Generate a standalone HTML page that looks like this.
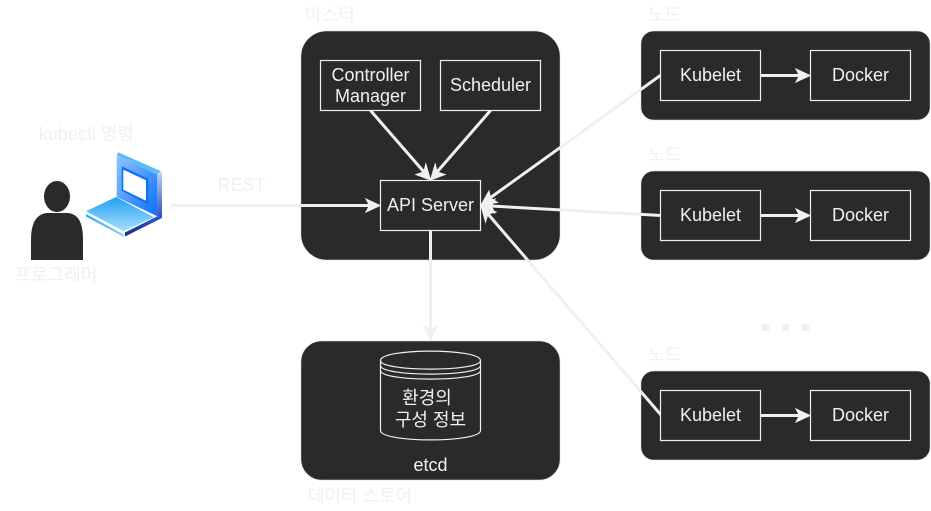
<!DOCTYPE html>
<html lang="ko">
<head>
<meta charset="utf-8">
<style>
html,body{margin:0;padding:0;background:#fff;width:931px;height:511px;overflow:hidden}
svg{display:block}
text{font-family:"Liberation Sans","Noto Sans CJK KR",sans-serif;font-size:18px;fill:#f0f0f0;text-anchor:middle}
.b{fill:#2a2a2a;stroke:#f0f0f0;stroke-width:1}
.c{fill:#2a2a2a;stroke:#f0f0f0;stroke-width:1.2}
.l{stroke:#f0f0f0;stroke-width:3;fill:none}
.a{fill:#f0f0f0;stroke:#f0f0f0;stroke-width:1}
</style>
</head>
<body>
<svg width="931" height="511" viewBox="0 0 931 511" xmlns="http://www.w3.org/2000/svg">
<defs>
<linearGradient id="g1" x1="0" y1="0" x2="0" y2="1"><stop offset="0" stop-color="#20a2f2"/><stop offset="1" stop-color="#a8defc"/></linearGradient>
<linearGradient id="g2" x1="0" y1="0" x2="1" y2="1"><stop offset="0" stop-color="#90c2ff"/><stop offset="1" stop-color="#0a70f8"/></linearGradient>
<linearGradient id="g3" x1="0" y1="0" x2="0" y2="1"><stop offset="0" stop-color="#bcd2f6"/><stop offset="1" stop-color="#2a4cc0"/></linearGradient>
<linearGradient id="g4" x1="0" y1="0" x2="1" y2="0"><stop offset="0" stop-color="#14309f"/><stop offset="1" stop-color="#3458c8"/></linearGradient>
<linearGradient id="g5" x1="0" y1="0" x2="1" y2="0"><stop offset="0" stop-color="#25a6f4"/><stop offset="1" stop-color="#8dd2fa"/></linearGradient>
</defs>

<rect class="b" x="300.700" y="30.700" width="259.600" height="229.600" rx="26"/>
<rect class="b" x="640.700" y="30.700" width="289.600" height="89.600" rx="13"/>
<rect class="b" x="640.700" y="170.700" width="289.600" height="89.600" rx="13"/>
<rect class="b" x="640.700" y="370.700" width="289.600" height="89.600" rx="13"/>
<rect class="b" x="300.700" y="340.700" width="259.600" height="139.600" rx="21"/>

<text x="330" y="21">마스터</text>
<text x="664.500" y="21">노드</text>
<text x="664.500" y="161">노드</text>
<text x="664.500" y="361">노드</text>
<text x="360" y="502">데이터 스토어</text>
<text x="86.500" y="140">kubectl 명령</text>
<text x="56" y="281">프로그래머</text>
<text x="241.500" y="191">REST</text>

<rect x="762" y="324" width="7" height="7" fill="#f0f0f0"/>
<rect x="782" y="324" width="7" height="7" fill="#f0f0f0"/>
<rect x="802" y="324" width="7" height="7" fill="#f0f0f0"/>

<!-- connectors -->
<path class="l" d="M171 205.500H370"/>
<path class="a" d="M380 205.500L366 212L369.500 205.500L366 199Z"/>
<path class="l" d="M430.500 231V330"/>
<path class="a" d="M430.500 340L424 326L430.500 329.500L437 326Z"/>
<path class="l" d="M370.500 110.500L424 172"/>
<path class="a" d="M430.500 180L416 174.500L423.800 172L425.800 164Z"/>
<path class="l" d="M490.500 110.500L437 172"/>
<path class="a" d="M430.500 180L435.200 164L437.200 172L445 174.500Z"/>
<path class="l" d="M661 75L490 198"/>
<path class="a" d="M481 205L489 191L490.500 198L497.500 202.500Z"/>
<path class="l" d="M661 215.500L491 206"/>
<path class="a" d="M481 205.500L495 199L491.500 206L494.500 213Z"/>
<path class="l" d="M661 415L488 214"/>
<path class="a" d="M481 205.500L496 212L488 214L485.500 222Z"/>
<path class="l" d="M761 75.500H800"/>
<path class="a" d="M810 75.500L796 82L799.500 75.500L796 69Z"/>
<path class="l" d="M761 215.500H800"/>
<path class="a" d="M810 215.500L796 222L799.500 215.500L796 209Z"/>
<path class="l" d="M761 415.500H800"/>
<path class="a" d="M810 415.500L796 422L799.500 415.500L796 409Z"/>

<!-- master inner -->
<rect class="c" x="320.500" y="60.500" width="100" height="50"/>
<text x="370.500" y="81">Controller</text>
<text x="370.500" y="102">Manager</text>
<rect class="c" x="440.500" y="60.500" width="100" height="50"/>
<text x="490.500" y="91">Scheduler</text>
<rect class="c" x="380.500" y="180.500" width="100" height="50"/>
<text x="430.500" y="211">API Server</text>

<!-- nodes -->
<rect class="c" x="660.500" y="50.500" width="100" height="50"/>
<text x="710.500" y="81">Kubelet</text>
<rect class="c" x="810.500" y="50.500" width="100" height="50"/>
<text x="860.500" y="81">Docker</text>
<rect class="c" x="660.500" y="190.500" width="100" height="50"/>
<text x="710.500" y="221">Kubelet</text>
<rect class="c" x="810.500" y="190.500" width="100" height="50"/>
<text x="860.500" y="221">Docker</text>
<rect class="c" x="660.500" y="390.500" width="100" height="50"/>
<text x="710.500" y="421">Kubelet</text>
<rect class="c" x="810.500" y="390.500" width="100" height="50"/>
<text x="860.500" y="421">Docker</text>

<!-- etcd cylinder -->
<path class="c" d="M380.500 360.500C380.500 348 480.500 348 480.500 360.500V430.500C480.500 443 380.500 443 380.500 430.500Z"/>
<path fill="none" stroke="#f0f0f0" stroke-width="1.200" d="M380.500 360.500C380.500 372 480.500 372 480.500 360.500M380.500 365.500C380.500 377 480.500 377 480.500 365.500M380.500 370.500C380.500 382 480.500 382 480.500 370.500"/>
<text x="427" y="404">환경의</text>
<text x="430.500" y="426">구성 정보</text>
<text x="430.500" y="471">etcd</text>

<!-- person -->
<ellipse cx="57" cy="196.500" rx="13" ry="15.500" fill="#2a2a2a"/>
<path fill="#2a2a2a" d="M31 260V240C31 222 37 214 47 213H68C78 214 83 222 83 240V260Z"/>

<!-- laptop -->
<polygon points="116.700,155.300 118.300,152.300 161,171.300 157.300,174.700" fill="#5cbcf8"/>
<polygon points="116.700,155.300 157.300,174.700 157.300,216.300 116.700,197" fill="url(#g2)"/>
<polygon points="157.300,174.700 162,172 162,218 157.300,216.300" fill="url(#g3)"/>
<polygon points="121.700,166.300 148.300,178.700 148.300,204.700 121.700,190.700" fill="#0a72fa"/>
<polygon points="123.300,169.700 146,180.300 146,200.700 123.300,189.700" fill="#ffffff"/>
<polygon points="86,211.300 116,197 154,217.300 123.300,231.300" fill="url(#g1)"/>
<polygon points="86,211.300 123.800,231.500 125,236.500 123.800,237 86,216.500" fill="#ffffff"/>
<polygon points="86,214 123.800,234.500 123.800,237 86,216.500" fill="url(#g5)"/>
<polygon points="125,232 157.300,216.300 162,218 125,236.500" fill="url(#g4)"/>
<polygon points="123.300,231.300 154,217.300 157.300,216.300 125,232.500" fill="#ffffff"/>
</svg>
</body>
</html>
